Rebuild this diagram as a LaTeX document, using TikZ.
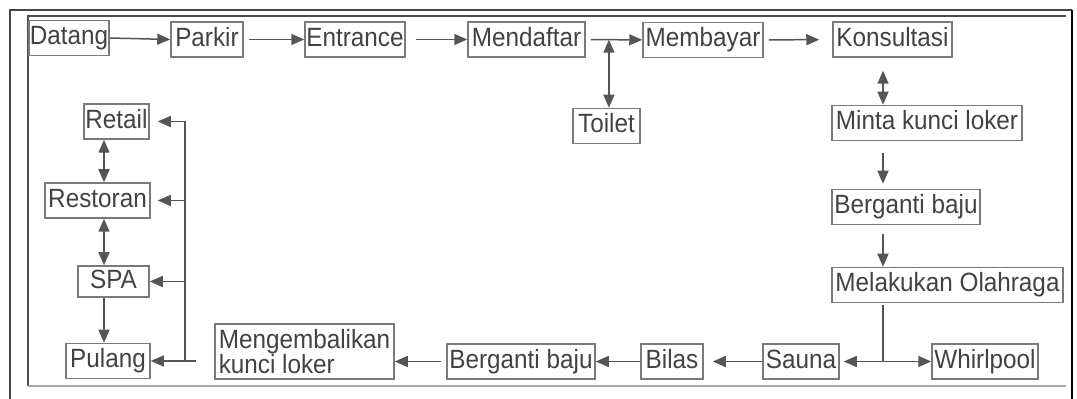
\documentclass[tikz,border=0pt]{standalone}
\usepackage{fontspec}
\setmainfont{Liberation Sans}[FakeStretch=0.92]
\usetikzlibrary{arrows.meta,positioning,calc}
\definecolor{linegray}{HTML}{555555}
\definecolor{boxgray}{HTML}{7A7A7A}
\definecolor{textgray}{HTML}{424242}

\begin{document}
\begin{tikzpicture}[
    x=0.5pt, y=-0.5pt,
    box/.style={rectangle, draw=boxgray, line width=0.75pt, inner sep=0pt, minimum height=17.5pt, text height=9.6pt, text depth=2.8pt, font=\fontsize{13.2}{14}\selectfont, text=textgray},
    arrow/.style={-{Triangle[length=6.5pt,width=5.5pt]}, draw=linegray, line width=0.75pt},
    dblarrow/.style={{Triangle[length=6.5pt,width=5.5pt]}-{Triangle[length=6.5pt,width=5.5pt]}, draw=linegray, line width=0.75pt},
    link/.style={draw=linegray, line width=0.75pt}
]
\useasboundingbox (0,0) rectangle (1077,399);

% Frame
\draw[line width=1.4pt, draw=black!72] (10,399) -- (10,10) -- (1072,10);
\draw[line width=1.4pt, draw=black] (1072,10) -- (1072,399);
\draw[line width=0.7pt, draw=black!70] (1066,16) -- (28,16) -- (28,386);
\draw[line width=0.7pt, draw=black!35] (28,386) -- (1066,386);

% Top row
\node[box, minimum width=40pt] (datang) at (69,38) {Datang};
\node[box, minimum width=36pt] (parkir) at (207,39.5) {Parkir};
\node[box, minimum width=50pt] (entrance) at (355,39.5) {Entrance};
\node[box, minimum width=58.5pt] (mendaftar) at (526.5,39.5) {Mendaftar};
\node[box, minimum width=60pt] (membayar) at (703,40) {Membayar};
\node[box, minimum width=59.5pt] (konsultasi) at (892.5,39.5) {Konsultasi};
\node[box, minimum width=33.5pt] (toilet) at (606.5,126) {Toilet};

% Right column
\node[box, minimum width=95pt] (loker) at (927,123) {Minta kunci loker};
\node[box, minimum width=74pt] (ganti) at (906,207) {Berganti baju};
\node[box, minimum width=115.5pt] (olahraga) at (947.5,285) {Melakukan Olahraga};
\node[box, minimum width=53pt] (whirlpool) at (985,361.5) {Whirlpool};

% Bottom row
\node[box, minimum width=38pt] (sauna) at (801,361.5) {Sauna};
\node[box, minimum width=31pt] (bilas) at (672,361.5) {Bilas};
\node[box, minimum width=74pt] (gantilagi) at (521,361.5) {Berganti baju};
\node[box, minimum width=89.5pt, minimum height=27.5pt, align=left, text height=, text depth=, font=\fontsize{13.2}{12.8}\selectfont] (kembali) at (304.5,351.5) {Mengembalikan\\kunci loker};

% Left column
\node[box, minimum width=42pt] (pulang) at (108,361) {Pulang};
\node[box, minimum width=35.5pt, minimum height=15.5pt] (spa) at (113.5,281.5) {SPA};
\node[box, minimum width=52.5pt] (restoran) at (97.5,200.5) {Restoran};
\node[box, minimum width=32.5pt] (retail) at (116.5,121.5) {Retail};

% Arrows, top row
\draw[arrow] (datang.east) -- (parkir.west);
\draw[arrow, shorten <=2.5pt] (parkir) -- (entrance);
\draw[arrow, shorten <=5pt] (entrance) -- (mendaftar);
\draw[arrow, shorten <=2.5pt] (mendaftar) -- (membayar);
\coordinate (wc) at ($(mendaftar.east)!0.41!(membayar.west)$);
\draw[dblarrow] (wc) -- (wc |- toilet.north);
\draw[arrow, shorten <=2.5pt, shorten >=6.5pt] (membayar) -- (konsultasi);

% Arrows, right column
\coordinate (kanan) at (883,0);
\draw[dblarrow, shorten <=6.5pt] (konsultasi.south -| kanan) -- (loker.north -| kanan);
\draw[arrow, shorten <=6pt, shorten >=2.5pt] (loker.south -| kanan) -- (ganti.north -| kanan);
\draw[arrow, shorten <=4.5pt] (ganti.south -| kanan) -- (olahraga.north -| kanan);
\coordinate (cabang) at (kanan |- sauna.east);
\draw[link, shorten <=1pt] (olahraga.south -| kanan) -- (cabang);
\draw[arrow, shorten >=2pt] (cabang) -- (sauna.east);
\draw[arrow] (cabang) -- (whirlpool.west);

% Arrows, bottom row
\draw[arrow, shorten >=4.5pt] (sauna) -- (bilas);
\draw[arrow] (bilas) -- (gantilagi);
\draw[arrow, shorten <=2.5pt] (gantilagi.west) -- (gantilagi.west -| kembali.east);

% Return line to the left column
\coordinate (balik) at (185,0);
\coordinate (pojok) at (balik |- pulang.east);
\draw[arrow] ([xshift=-9pt]kembali.west |- pulang.east) -- (pulang.east);
\draw[link] (pojok) -- (balik |- retail.east);
\draw[arrow, shorten >=4pt] (balik |- retail.east) -- (retail.east);
\draw[arrow, shorten >=3.5pt] (balik |- restoran.east) -- (restoran.east);
\draw[arrow] (balik |- spa.east) -- (spa.east);

% Arrows, left column
\coordinate (kiri) at (104,0);
\draw[dblarrow] (retail.south -| kiri) -- (restoran.north -| kiri);
\draw[dblarrow] (restoran.south -| kiri) -- (spa.north -| kiri);
\draw[arrow] (spa.south -| kiri) -- (pulang.north -| kiri);

\end{tikzpicture}
\end{document}
